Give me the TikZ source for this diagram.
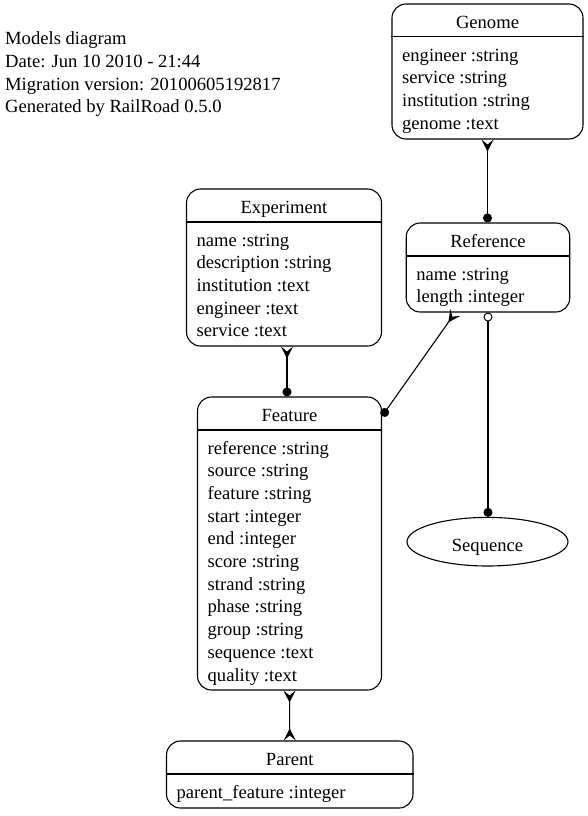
\documentclass[tikz,border=0pt]{standalone}
\usepackage{fontspec}
\setmainfont{Liberation Serif}
\usetikzlibrary{arrows.meta, shapes.geometric}

\tikzset{
  every node/.style={font=\fontsize{18.6}{22.7}\selectfont},
  model/.style={draw, rounded corners=14pt, line width=1.1pt, inner sep=0pt},
  mtitle/.style={anchor=base, inner sep=0pt},
  mattrs/.style={anchor=north west, align=left, inner xsep=10.5pt, inner ysep=8pt},
  rel/.style={line width=1.1pt},
  crowfoot/.tip={Stealth[reversed, length=12pt, width=12pt, inset=5pt]},
  blob/.tip={Circle[length=9pt]},
  ring/.tip={Circle[open, length=9pt, line width=1pt]}
}

\begin{document}
\begin{tikzpicture}[x=1pt, y=-1pt]
\useasboundingbox (0,0) rectangle (587,816);

\node[anchor=north west, align=left, inner sep=0pt] (info) at (5,28.8)
  {\strut Models diagram\\Date: Jun 10 2010 - 21:44\\Migration version: 20100605192817\\Generated by RailRoad 0.5.0};

% Genome
\node[model, minimum width=191pt, minimum height=135pt] (genome) at (487.5,71.5) {};
\node[mtitle] (genomeT) at ([yshift=-25pt]genome.north) {Genome};
\draw[rel] ([yshift=-33.5pt]genome.north west) -- ([yshift=-33.5pt]genome.north east);
\node[mattrs] (genomeA) at ([yshift=-33.5pt]genome.north west)
  {\strut engineer :string\\service :string\\institution :string\\genome :text};

% Reference
\node[model, minimum width=163.5pt, minimum height=89pt] (reference) at (488,267.5) {};
\node[mtitle] (referenceT) at ([yshift=-25pt]reference.north) {Reference};
\draw[rel] ([yshift=-33.5pt]reference.north west) -- ([yshift=-33.5pt]reference.north east);
\node[mattrs] (referenceA) at ([yshift=-33.5pt]reference.north west)
  {\strut name :string\\length :integer};

% Experiment
\node[model, minimum width=195pt, minimum height=157pt] (experiment) at (284,267.5) {};
\node[mtitle] (experimentT) at ([yshift=-25pt]experiment.north) {Experiment};
\draw[rel] ([yshift=-33.5pt]experiment.north west) -- ([yshift=-33.5pt]experiment.north east);
\node[mattrs] (experimentA) at ([yshift=-33.5pt]experiment.north west)
  {\strut name :string\\description :string\\institution :text\\engineer :text\\service :text};

% Feature
\node[model, minimum width=184pt, minimum height=293pt] (feature) at (289.5,543.5) {};
\node[mtitle] (featureT) at ([yshift=-25pt]feature.north) {Feature};
\draw[rel] ([yshift=-33.5pt]feature.north west) -- ([yshift=-33.5pt]feature.north east);
\node[mattrs] (featureA) at ([yshift=-33.5pt]feature.north west)
  {\strut reference :string\\source :string\\feature :string\\start :integer\\end :integer\\score :string\\strand :string\\phase :string\\group :string\\sequence :text\\quality :text};

% Parent
\node[model, minimum width=246.5pt, minimum height=67pt] (parent) at (289.75,774.5) {};
\node[mtitle] (parentT) at ([yshift=-25pt]parent.north) {Parent};
\draw[rel] ([yshift=-33.5pt]parent.north west) -- ([yshift=-33.5pt]parent.north east);
\node[mattrs] (parentA) at ([yshift=-33.5pt]parent.north west)
  {\strut parent\_feature :integer};

% Sequence
\node[draw, ellipse, line width=1.1pt, inner sep=0pt, text height=18.6pt, text depth=0pt,
  minimum width=161pt, minimum height=48.6pt] (sequence) at (487.5,541.7) {Sequence};

% relations
\draw[rel, {crowfoot}-{blob}] (genome.south) -- (genome.south |- reference.north);
\draw[rel, {crowfoot}-{blob}] ([xshift=3pt]experiment.south) -- ([xshift=-2.5pt]feature.north);
\draw[rel, {crowfoot}-{blob}] (reference.234) -- (feature.54);
\draw[rel, {ring}-{blob}] (reference.south) -- (sequence.north -| reference.south);
\draw[rel, {crowfoot}-{crowfoot}] (feature.south) -- (parent.north);
\end{tikzpicture}
\end{document}
